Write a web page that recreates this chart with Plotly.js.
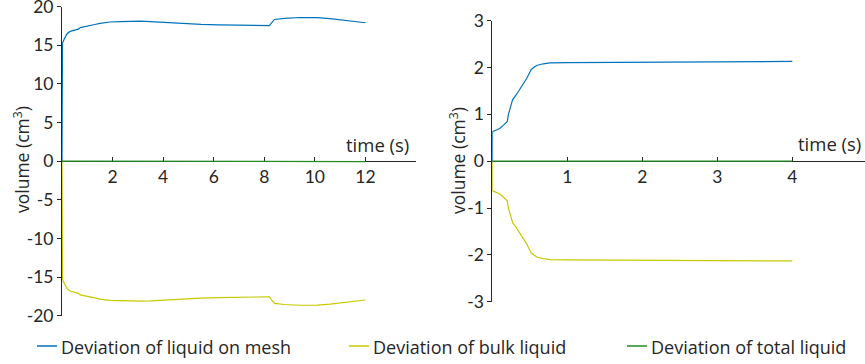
<!DOCTYPE html>
<html>
<head>
<meta charset="utf-8">
<script src="https://cdn.plot.ly/plotly-3.0.1.min.js"></script>
<style>html,body{margin:0;padding:0;background:#fff;}#chart{width:865px;height:364px;}</style>
</head>
<body>
<div id="chart"></div>
<script>
// ---- data ----
const seriesNames = ["Deviation of liquid on mesh", "Deviation of bulk liquid", "Deviation of total liquid"];

const leftTime = [0, 0.02, 0.1, 0.2, 0.32, 0.45, 0.56, 0.65, 0.72, 0.9, 1.1, 1.3, 1.5, 1.75, 1.9, 2.3, 2.7, 3.1, 3.5, 4.1, 4.8, 5.5, 6.2, 6.8, 7.5, 8.05, 8.2, 8.4, 8.8, 9.4, 9.7, 10.1, 10.6, 11.0, 11.5, 12.0];
const leftMesh = [0, 15.3, 15.9, 16.5, 16.8, 16.9, 17.0, 17.1, 17.3, 17.4, 17.55, 17.7, 17.85, 18.0, 18.02, 18.06, 18.1, 18.12, 18.08, 17.95, 17.8, 17.72, 17.65, 17.62, 17.58, 17.52, 17.55, 18.35, 18.5, 18.6, 18.62, 18.58, 18.45, 18.3, 18.1, 17.92];
const leftBulk = [0, -15.3, -15.9, -16.5, -16.8, -16.9, -17.0, -17.1, -17.3, -17.4, -17.55, -17.7, -17.85, -18.0, -18.02, -18.06, -18.1, -18.12, -18.08, -17.95, -17.8, -17.72, -17.65, -17.62, -17.58, -17.52, -17.55, -18.4, -18.55, -18.65, -18.66, -18.62, -18.5, -18.35, -18.15, -17.97];
const leftTotal = [0, 0, 0, 0, 0, 0, 0, 0, 0, 0, 0, 0, 0, 0, 0, 0, 0, 0, 0, 0, 0, 0, 0, 0, 0, 0, 0, -0.05, -0.05, -0.05, -0.04, -0.04, -0.05, -0.05, -0.05, -0.05];

const rightTime = [0, 0.003, 0.06, 0.1, 0.15, 0.2, 0.215, 0.24, 0.27, 0.32, 0.39, 0.46, 0.5, 0.52, 0.56, 0.6, 0.68, 0.77, 1.0, 1.5, 2.0, 2.7, 3.4, 4.0];
const rightMesh = [0, 0.63, 0.67, 0.70, 0.77, 0.85, 1.0, 1.15, 1.31, 1.42, 1.59, 1.77, 1.9, 1.96, 2.01, 2.05, 2.08, 2.10, 2.105, 2.11, 2.115, 2.12, 2.125, 2.13];
const rightBulk = [0, -0.63, -0.67, -0.70, -0.77, -0.85, -1.0, -1.15, -1.31, -1.42, -1.59, -1.77, -1.9, -1.96, -2.01, -2.05, -2.08, -2.10, -2.105, -2.11, -2.115, -2.12, -2.125, -2.13];
const rightTotal = [0, 0, 0, 0, 0, 0, 0, 0, 0, 0, 0, 0, 0, 0, 0, 0, 0, 0, 0, 0, 0, 0, 0, 0];

const leftXTicks = [2, 4, 6, 8, 10, 12];
const leftYTicks = [-20, -15, -10, -5, 0, 5, 10, 15, 20];
const leftYTickText = ["-20", "-15", "-10", "-5", "0", "5", "10", "15", "20"];
const rightXTicks = [1, 2, 3, 4];
const rightYTicks = [-3, -2, -1, 0, 1, 2, 3];
const rightYTickText = ["-3", "-2", "-1", "0", "1", "2", "3"];
const yTitle = "volume (cm<sup>3</sup>)";
const xTitle = "time (s)";

// ---- styling ----
const colors = ["#0072BD", "#C8C800", "#228B22"];
const W = 865, H = 364;
const FONT = "'Open Sans', Lato, sans-serif";
const TFONT = "Lato, 'Open Sans', sans-serif";
const AX = "#262626";
const px = v => v / W;
const py = v => 1 - v / H;

function tr(x, y, i, xa, ya) {
  return {x: x, y: y, type: "scatter", mode: "lines", name: seriesNames[i],
          line: {color: colors[i], width: 1.2}, xaxis: xa, yaxis: ya, showlegend: false, hoverinfo: "skip"};
}

const data = [
  tr(leftTime, leftMesh, 0, "x", "y"),
  tr(leftTime, leftBulk, 1, "x", "y"),
  tr(leftTime, leftTotal, 2, "x", "y"),
  tr(rightTime, rightMesh, 0, "x2", "y2"),
  tr(rightTime, rightBulk, 1, "x2", "y2"),
  tr(rightTime, rightTotal, 2, "x2", "y2")
];

const commonX = {showline: true, linecolor: AX, linewidth: 1, ticks: "inside", ticklen: 4, tickcolor: AX,
  showgrid: false, zeroline: false, anchor: "free", layer: "below traces", ticklabeloverflow: "allow",
  tickfont: {size: 17.5, color: AX, family: TFONT}};
const commonY = {showline: true, linecolor: AX, linewidth: 1, ticks: "outside", ticklen: 4, tickcolor: AX,
  showgrid: false, zeroline: false, layer: "below traces", ticklabeloverflow: "allow",
  tickfont: {size: 17.5, color: AX, family: TFONT}};

const layout = {
  width: W, height: H,
  margin: {l: 0, r: 0, t: 0, b: 0},
  paper_bgcolor: "#fff", plot_bgcolor: "rgba(0,0,0,0)",
  font: {family: FONT, color: AX},
  showlegend: false,
  xaxis: Object.assign({}, commonX, {domain: [px(62), px(416)], range: [0, 14], tickvals: leftXTicks,
    position: py(161.2)}),
  yaxis: Object.assign({}, commonY, {domain: [py(315.7), py(6.7)], range: [-20, 20], anchor: "x",
    tickvals: leftYTicks, ticktext: leftYTickText}),
  xaxis2: Object.assign({}, commonX, {domain: [px(492.3), 1], range: [0, 4.97], tickvals: rightXTicks,
    position: py(161.3)}),
  yaxis2: Object.assign({}, commonY, {domain: [py(301.7), py(20.7)], range: [-3, 3], anchor: "x2",
    tickvals: rightYTicks, ticktext: rightYTickText}),
  annotations: [
    {text: xTitle, xref: "paper", yref: "paper", x: px(411), y: py(145), xanchor: "right", yanchor: "middle",
     showarrow: false, font: {size: 18.5, color: AX, family: FONT}},
    {text: xTitle, xref: "paper", yref: "paper", x: px(863), y: py(144), xanchor: "right", yanchor: "middle",
     showarrow: false, font: {size: 18.5, color: AX, family: FONT}},
    {text: yTitle, xref: "paper", yref: "paper", x: px(21), y: py(160), xanchor: "center", yanchor: "middle",
     textangle: -90, showarrow: false, font: {size: 17.5, color: AX, family: FONT}},
    {text: yTitle, xref: "paper", yref: "paper", x: px(457), y: py(161), xanchor: "center", yanchor: "middle",
     textangle: -90, showarrow: false, font: {size: 17.5, color: AX, family: FONT}}
  ],
  shapes: []
};

// custom legend
const legendLineX = [37, 349, 627];
for (let i = 0; i < 3; i++) {
  layout.shapes.push({type: "line", xref: "paper", yref: "paper", x0: px(legendLineX[i]), x1: px(legendLineX[i] + 20),
    y0: py(346), y1: py(346), line: {color: colors[i], width: 1.5}});
  layout.annotations.push({text: seriesNames[i], xref: "paper", yref: "paper", x: px(legendLineX[i] + 22), y: py(347),
    xanchor: "left", yanchor: "middle", showarrow: false, font: {size: 18, color: AX, family: FONT}});
}

Plotly.newPlot("chart", data, layout, {staticPlot: true, displayModeBar: false});
</script>
</body>
</html>
